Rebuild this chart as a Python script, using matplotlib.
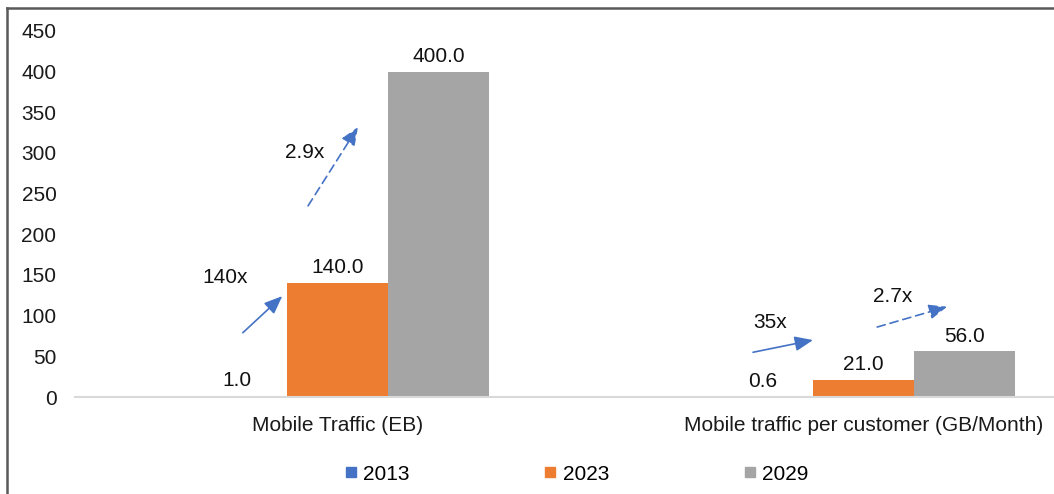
import matplotlib.pyplot as plt
from matplotlib.lines import Line2D
import numpy as np

plt.rcParams['font.family'] = ['Liberation Sans', 'DejaVu Sans']

# data
categories = ["Mobile Traffic (EB)", "Mobile traffic per customer (GB/Month)"]
years = ["2013", "2023", "2029"]
values_2013 = [1.0, 0.6]
values_2023 = [140.0, 21.0]
values_2029 = [400.0, 56.0]
series = [values_2013, values_2023, values_2029]
colors = ["#4472C4", "#ED7D31", "#A5A5A5"]
yticks = [0, 50, 100, 150, 200, 250, 300, 350, 400, 450]

# growth arrows: (label, label xy, tail xy, tip xy, dashed)
growth = [
    ("140x", (-0.214, 147), (-0.180, 79), (-0.105, 124), False),
    ("2.9x", (-0.062, 301), (-0.056, 235), (0.039, 332), True),
    ("35x", (0.822, 91), (0.790, 55), (0.904, 70), False),
    ("2.7x", (1.056, 123), (1.026, 86), (1.159, 111), True),
]

FS = 15

fig = plt.figure(figsize=(10.54, 4.94), dpi=100)
ax = fig.add_axes([74.5 / 1054, 97 / 494, 1052 / 1054, 366 / 494])

x = np.arange(len(categories))
width = 0.192
for i, (vals, col) in enumerate(zip(series, colors)):
    pos = x + (i - 1) * width
    ax.bar(pos, vals, width, color=col, label=years[i])
    for p, v in zip(pos, vals):
        ax.text(p, v + 19, f"{v:.1f}", ha="center", va="center", fontsize=FS, color="#111111")

for label, lxy, tail, tip, dashed in growth:
    ax.annotate("", xy=tip, xytext=tail,
                arrowprops=dict(arrowstyle="-|>,head_length=1.1,head_width=0.45",
                                color="#4472C4", lw=1.2,
                                linestyle=(0, (5, 3)) if dashed else "-",
                                shrinkA=0, shrinkB=0))
    ax.text(lxy[0], lxy[1], label, ha="center", va="center", fontsize=FS, color="#111111")

ax.set_xlim(-0.5, 1.5)
ax.set_ylim(0, 450)
ax.set_yticks(yticks)
ax.set_xticks(x)
ax.set_xticklabels(categories)
ax.tick_params(axis="both", length=0, labelsize=FS, colors="#1a1a1a")
ax.tick_params(axis="x", pad=14)
ax.tick_params(axis="y", pad=13)
for s in ["top", "right", "left"]:
    ax.spines[s].set_visible(False)
ax.spines["bottom"].set_color("#d9d9d9")
ax.spines["bottom"].set_linewidth(1.5)

handles = [Line2D([], [], marker="s", linestyle="none", markersize=7.5,
                  markerfacecolor=c, markeredgecolor=c) for c in colors]
fig.legend(handles, years, loc="center", bbox_to_anchor=(576 / 1054, 1 - 474 / 494),
           ncol=3, frameon=False, fontsize=FS, handletextpad=0.25,
           columnspacing=6.4, handlelength=0.7)

# frame of the original chart (cropped at right and bottom)
fig.add_artist(Line2D([7 / 1054, 7 / 1054], [0, 1 - 8 / 494], color="#595959", lw=1.8))
fig.add_artist(Line2D([7 / 1054, 1], [1 - 8 / 494, 1 - 8 / 494], color="#595959", lw=1.8))

fig.savefig("out.png", dpi=100)
plt.close(fig)
